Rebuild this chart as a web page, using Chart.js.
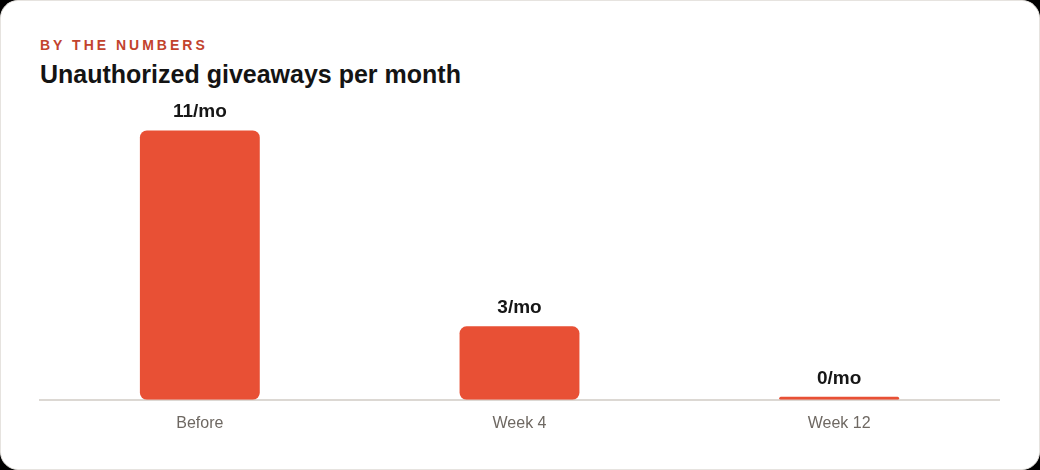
<!DOCTYPE html>
<html>
<head>
<meta charset="utf-8">
<script src="https://cdn.jsdelivr.net/npm/chart.js@4"></script>
<style>
    html, body { margin: 0; padding: 0; background: #000; }
    .card {
        position: relative;
        width: 1038px;
        height: 468px;
        background: #fff;
        border: 1px solid #e6e3df;
        border-radius: 18px;
        font-family: "Liberation Sans", Arial, sans-serif;
    }
    .kicker {
        position: absolute;
        left: 39px;
        top: 36px;
        font-size: 14px;
        font-weight: bold;
        letter-spacing: 3px;
        color: #c2432d;
    }
    .title {
        position: absolute;
        left: 39px;
        top: 59px;
        font-size: 25px;
        font-weight: bold;
        color: #141414;
    }
    .chart-box {
        position: absolute;
        left: 38px;
        top: 90px;
        width: 961px;
        height: 359px;
    }
</style>
</head>
<body>
<div class="card">
    <div class="kicker">BY THE NUMBERS</div>
    <div class="title">Unauthorized giveaways per month</div>
    <div class="chart-box"><canvas id="giveawaysChart"></canvas></div>
</div>
<script>
const categories = ["Before", "Week 4", "Week 12"];
const giveaways = [11, 3, 0];
const valueLabels = ["11/mo", "3/mo", "0/mo"];

// Draw the "x/mo" labels above each bar
const valueLabelPlugin = {
    id: "valueLabels",
    afterDatasetsDraw(chart) {
        const ctx = chart.ctx;
        const meta = chart.getDatasetMeta(0);
        ctx.save();
        ctx.font = "bold 19px 'Liberation Sans', Arial, sans-serif";
        ctx.fillStyle = "#161616";
        ctx.textAlign = "center";
        ctx.textBaseline = "bottom";
        meta.data.forEach((bar, i) => {
            ctx.fillText(valueLabels[i], bar.x, bar.y - 9);
        });
        ctx.restore();
    }
};

const ctx = document.getElementById("giveawaysChart").getContext("2d");

new Chart(ctx, {
    type: "bar",
    data: {
        labels: categories,
        datasets: [{
            data: giveaways,
            backgroundColor: "#e85035",
            borderRadius: 7,
            borderSkipped: false,
            minBarLength: 3,
            categoryPercentage: 0.75,
            barPercentage: 0.5
        }]
    },
    options: {
        responsive: true,
        maintainAspectRatio: false,
        animation: false,
        layout: { padding: { top: 15, left: 1, right: 1, bottom: 3 } },
        plugins: {
            legend: { display: false },
            tooltip: { enabled: false }
        },
        scales: {
            x: {
                grid: { display: false, drawTicks: false },
                border: { display: true, color: "#dcd8d3", width: 2 },
                ticks: {
                    color: "#6e6862",
                    padding: 14,
                    font: { family: "'Liberation Sans', Arial, sans-serif", size: 16 }
                }
            },
            y: {
                display: false,
                min: 0,
                max: 12
            }
        }
    },
    plugins: [valueLabelPlugin]
});
</script>
</body>
</html>
